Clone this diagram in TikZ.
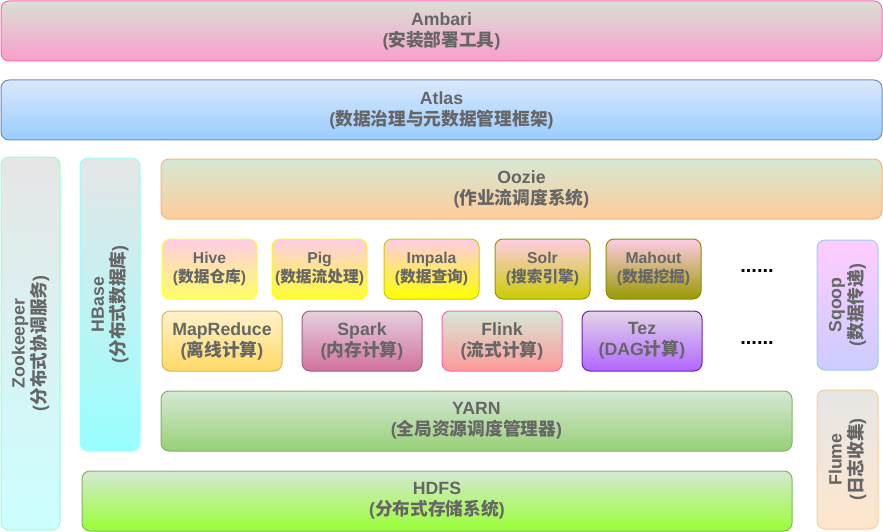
\documentclass[tikz,border=0pt]{standalone}
\usepackage{fontspec}
\setmainfont{Liberation Sans}
\newfontfamily\cjk{Noto Sans CJK SC}

\definecolor{txtgray}{HTML}{666666}

\begin{document}
\begin{tikzpicture}[x=1pt, y=-1pt, line width=1pt,
  layer/.style={draw, rounded corners=8pt, inner sep=0pt, outer sep=0pt,
    align=center, text=txtgray, font=\fontsize{17.7}{21}\selectfont\bfseries},
  tool/.style={layer, font=\fontsize{15.7}{19}\selectfont\bfseries,
    minimum width=95pt, minimum height=60pt},
  engine/.style={layer, minimum width=120pt, minimum height=60pt},
  side/.style={layer, rotate=90},
  more/.style={font=\fontsize{20}{20}\selectfont\bfseries}]

\useasboundingbox (0,0) rectangle (883,532);

% top layers
\node (ambari) at (441.5,31) [layer, minimum width=881pt, minimum height=60pt,
  draw={rgb,255:red,255;green,106;blue,181}, top color={rgb,255:red,217;green,224;blue,212},
  bottom color={rgb,255:red,249;green,159;blue,203}]
  {Ambari\\({\cjk 安装部署工具})};

\node (atlas) at (441.5,110) [layer, minimum width=881pt, minimum height=60pt,
  draw={rgb,255:red,108;green,142;blue,191}, top color={rgb,255:red,218;green,232;blue,252},
  bottom color={rgb,255:red,153;green,204;blue,255}]
  {Atlas\\({\cjk 数据治理与元数据管理框架})};

% side columns
\node (zookeeper) at (30.5,343.5) [side, minimum width=373pt, minimum height=59pt,
  draw={rgb,255:red,153;green,255;blue,204}, top color={rgb,255:red,230;green,230;blue,230},
  bottom color={rgb,255:red,204;green,255;blue,255}]
  {Zookeeper\\({\cjk 分布式协调服务})};

\node (hbase) at (110,304.5) [side, minimum width=293pt, minimum height=60pt,
  draw={rgb,255:red,153;green,255;blue,255}, top color={rgb,255:red,230;green,230;blue,230},
  bottom color={rgb,255:red,153;green,255;blue,255}]
  {HBase\\({\cjk 分布式数据库})};

\node (oozie) at (521.5,189) [layer, minimum width=721pt, minimum height=60pt,
  draw={rgb,255:red,245;green,180;blue,125}, top color={rgb,255:red,213;green,232;blue,212},
  bottom color={rgb,255:red,255;green,204;blue,153}]
  {Oozie\\({\cjk 作业流调度系统})};

% tools row
\node (hive) at (209.5,269) [tool, draw={rgb,255:red,255;green,255;blue,51},
  top color={rgb,255:red,255;green,204;blue,230}, bottom color={rgb,255:red,255;green,255;blue,102}]
  {Hive\\({\cjk 数据仓库})};
\node (pig) at (319.5,269) [tool, draw={rgb,255:red,255;green,255;blue,0},
  top color={rgb,255:red,255;green,204;blue,230}, bottom color={rgb,255:red,255;green,255;blue,51}]
  {Pig\\({\cjk 数据流处理})};
\node (impala) at (431.5,269) [tool, draw={rgb,255:red,204;green,204;blue,0},
  top color={rgb,255:red,255;green,204;blue,230}, bottom color={rgb,255:red,255;green,255;blue,0}]
  {Impala\\({\cjk 数据查询})};
\node (solr) at (542.5,269) [tool, draw={rgb,255:red,153;green,153;blue,0},
  top color={rgb,255:red,255;green,204;blue,230}, bottom color={rgb,255:red,204;green,204;blue,0}]
  {Solr\\({\cjk 搜索引擎})};
\node (mahout) at (653.5,269) [tool, draw={rgb,255:red,140;green,140;blue,0},
  top color={rgb,255:red,255;green,204;blue,230}, bottom color={rgb,255:red,153;green,153;blue,0}]
  {Mahout\\({\cjk 数据挖掘})};
\node (more1) at (757,271) [more] {......};

% engines row
\node (mapreduce) at (222,341) [engine, draw={rgb,255:red,214;green,182;blue,86},
  top color={rgb,255:red,255;green,242;blue,204}, bottom color={rgb,255:red,255;green,217;blue,102}]
  {MapReduce\\({\cjk 离线计算})};
\node (spark) at (362,341) [engine, draw={rgb,255:red,153;green,97;blue,133},
  top color={rgb,255:red,230;green,208;blue,222}, bottom color={rgb,255:red,209;green,113;blue,155}]
  {Spark\\({\cjk 内存计算})};
\node (flink) at (502,341) [engine, draw={rgb,255:red,255;green,102;blue,179},
  top color={rgb,255:red,213;green,232;blue,212}, bottom color={rgb,255:red,255;green,153;blue,153}]
  {Flink\\({\cjk 流式计算})};
\node (tez) at (642,341) [engine, draw={rgb,255:red,114;green,30;blue,180},
  top color={rgb,255:red,225;green,213;blue,231}, bottom color={rgb,255:red,178;green,102;blue,255}]
  {Tez\\(DAG{\cjk 计算})};
\node (more2) at (757,343) [more] {......};

\node (sqoop) at (847.5,305) [side, minimum width=130pt, minimum height=61pt,
  draw={rgb,255:red,153;green,204;blue,255}, top color={rgb,255:red,255;green,204;blue,255},
  bottom color={rgb,255:red,204;green,204;blue,255}]
  {Sqoop\\({\cjk 数据传递})};

% bottom layers
\node (yarn) at (476.5,421) [layer, minimum width=631pt, minimum height=60pt,
  draw={rgb,255:red,130;green,179;blue,102}, top color={rgb,255:red,213;green,232;blue,212},
  bottom color={rgb,255:red,151;green,208;blue,119}]
  {YARN\\({\cjk 全局资源调度管理器})};

\node (hdfs) at (437,501) [layer, minimum width=710pt, minimum height=60pt,
  draw={rgb,255:red,130;green,179;blue,102}, top color={rgb,255:red,213;green,232;blue,212},
  bottom color={rgb,255:red,153;green,255;blue,51}]
  {HDFS\\({\cjk 分布式存储系统})};

\node (flume) at (847.5,459.5) [side, minimum width=139pt, minimum height=61pt,
  draw={rgb,255:red,255;green,204;blue,153}, top color={rgb,255:red,230;green,230;blue,230},
  bottom color={rgb,255:red,255;green,230;blue,204}]
  {Flume\\({\cjk 日志收集})};

\end{tikzpicture}
\end{document}
